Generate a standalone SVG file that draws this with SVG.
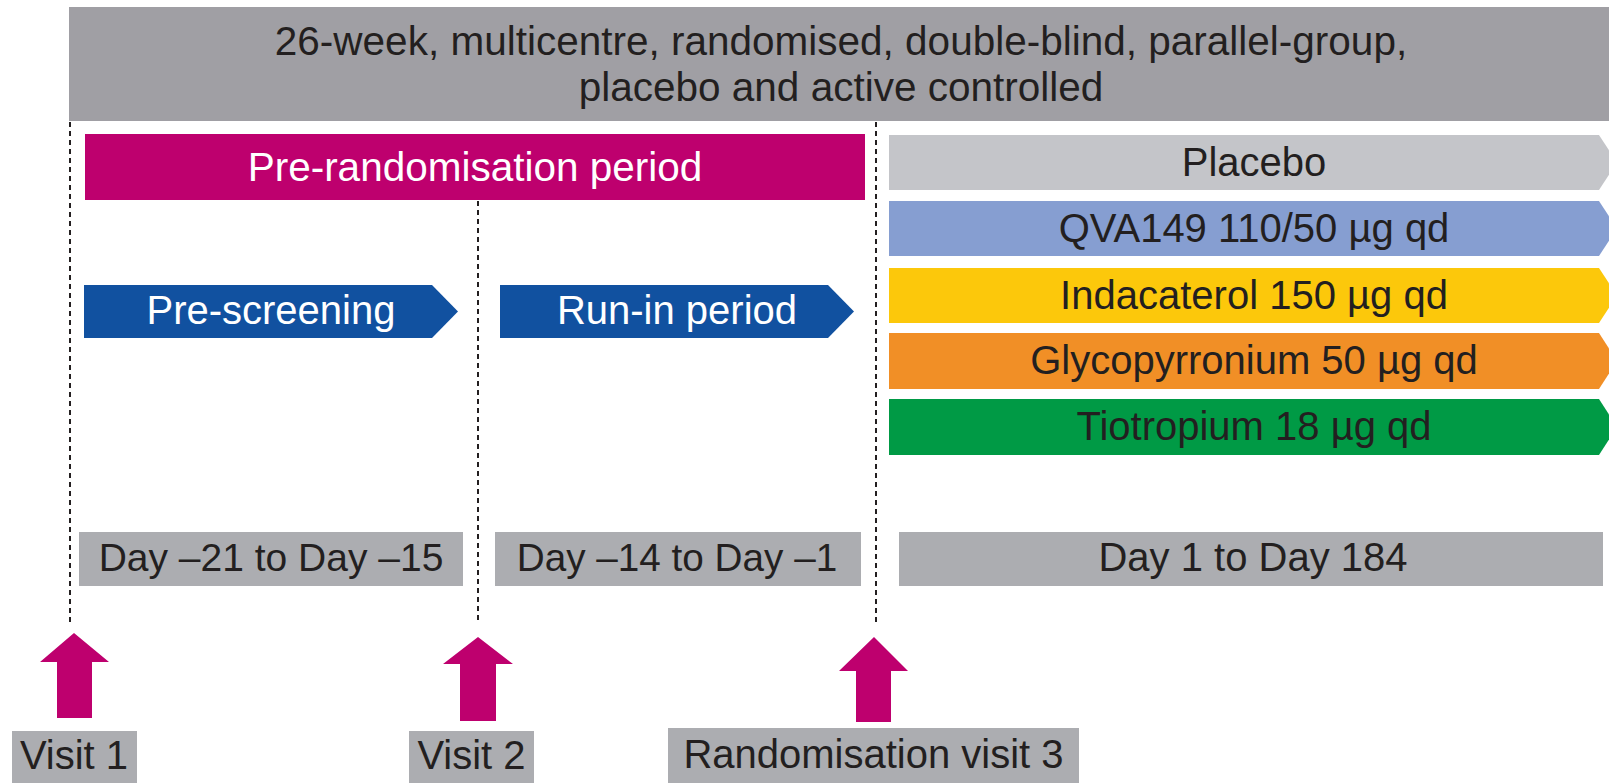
<svg xmlns="http://www.w3.org/2000/svg" width="1609" height="783" viewBox="0 0 1609 783">
  <style>
    text { font-family: "Liberation Sans", Arial, Helvetica, sans-serif; font-size: 40px; text-anchor: middle; }
    .dark { fill: #231f20; }
    .light { fill: #ffffff; }
    .dash { stroke: #231f20; stroke-width: 2; stroke-dasharray: 5 4; fill: none; }
    .visit { fill: #acadb1; }
    .day { fill: #acadb1; }
    .up { fill: #be006e; }
    .blue { fill: #1151a0; }
  </style>
  <rect width="1609" height="783" fill="#ffffff"/>

  <g id="header">
    <rect x="69" y="7" width="1545" height="114" fill="#a09fa4"/>
    <text class="dark" x="841" y="55" style="font-size:40.5px">26-week, multicentre, randomised, double-blind, parallel-group,</text>
    <text class="dark" x="841" y="101" style="font-size:40.5px">placebo and active controlled</text>
  </g>

  <g id="connectors">
    <line class="dash" x1="70" y1="122" x2="70" y2="624"/>
    <line class="dash" x1="478" y1="201" x2="478" y2="624"/>
    <line class="dash" x1="876" y1="122" x2="876" y2="624"/>
  </g>

  <g id="pre-randomisation">
    <rect x="85" y="134" width="780" height="66" fill="#be006e"/>
    <text class="light" x="475" y="181" style="font-size:40.5px">Pre-randomisation period</text>
  </g>

  <g id="pre-screening">
    <polygon class="blue" points="84,285 432,285 458,311.5 432,338 84,338"/>
    <text class="light" x="271" y="324">Pre-screening</text>
  </g>

  <g id="run-in">
    <polygon class="blue" points="500,285 828,285 854,311.5 828,338 500,338"/>
    <text class="light" x="677" y="324">Run-in period</text>
  </g>

  <g id="arm-placebo">
    <polygon points="889,135 1599,135 1617,162.5 1599,190 889,190" fill="#c4c5c9"/>
    <text class="dark" x="1254" y="175.5">Placebo</text>
  </g>
  <g id="arm-qva149">
    <polygon points="889,201 1599,201 1617,228.5 1599,256 889,256" fill="#869ed1"/>
    <text class="dark" x="1254" y="241.5">QVA149 110/50 µg qd</text>
  </g>
  <g id="arm-indacaterol">
    <polygon points="889,268 1599,268 1617,295.5 1599,323 889,323" fill="#fcc80b"/>
    <text class="dark" x="1254" y="308.5">Indacaterol 150 µg qd</text>
  </g>
  <g id="arm-glycopyrronium">
    <polygon points="889,333 1599,333 1617,361 1599,389 889,389" fill="#f18f26"/>
    <text class="dark" x="1254" y="374">Glycopyrronium 50 µg qd</text>
  </g>
  <g id="arm-tiotropium">
    <polygon points="889,399 1599,399 1617,427 1599,455 889,455" fill="#009a45"/>
    <text class="dark" x="1254" y="439.5">Tiotropium 18 µg qd</text>
  </g>

  <g id="day-1">
    <rect class="day" x="79" y="532" width="384" height="54"/>
    <text class="dark" x="271" y="571" style="font-size:39px">Day –21 to Day –15</text>
  </g>
  <g id="day-2">
    <rect class="day" x="495" y="532" width="366" height="54"/>
    <text class="dark" x="677" y="571" style="font-size:38.7px">Day –14 to Day –1</text>
  </g>
  <g id="day-3">
    <rect class="day" x="899" y="532" width="704" height="54"/>
    <text class="dark" x="1253" y="571">Day 1 to Day 184</text>
  </g>

  <g id="arrow-visit1">
    <polygon class="up" points="74,633 109,662 92,662 92,718 57,718 57,662 40,662"/>
  </g>
  <g id="arrow-visit2">
    <polygon class="up" points="478,637 513,664 496,664 496,721 460,721 460,664 443,664"/>
  </g>
  <g id="arrow-visit3">
    <polygon class="up" points="874,637 908,671 891,671 891,722 856,722 856,671 839,671"/>
  </g>

  <g id="visit1">
    <rect class="visit" x="12" y="731" width="125" height="60"/>
    <text class="dark" x="74" y="769">Visit 1</text>
  </g>
  <g id="visit2">
    <rect class="visit" x="409" y="731" width="125" height="60"/>
    <text class="dark" x="471.5" y="769">Visit 2</text>
  </g>
  <g id="visit3">
    <rect class="visit" x="668" y="728" width="411" height="60"/>
    <text class="dark" x="873.5" y="768">Randomisation visit 3</text>
  </g>
</svg>
